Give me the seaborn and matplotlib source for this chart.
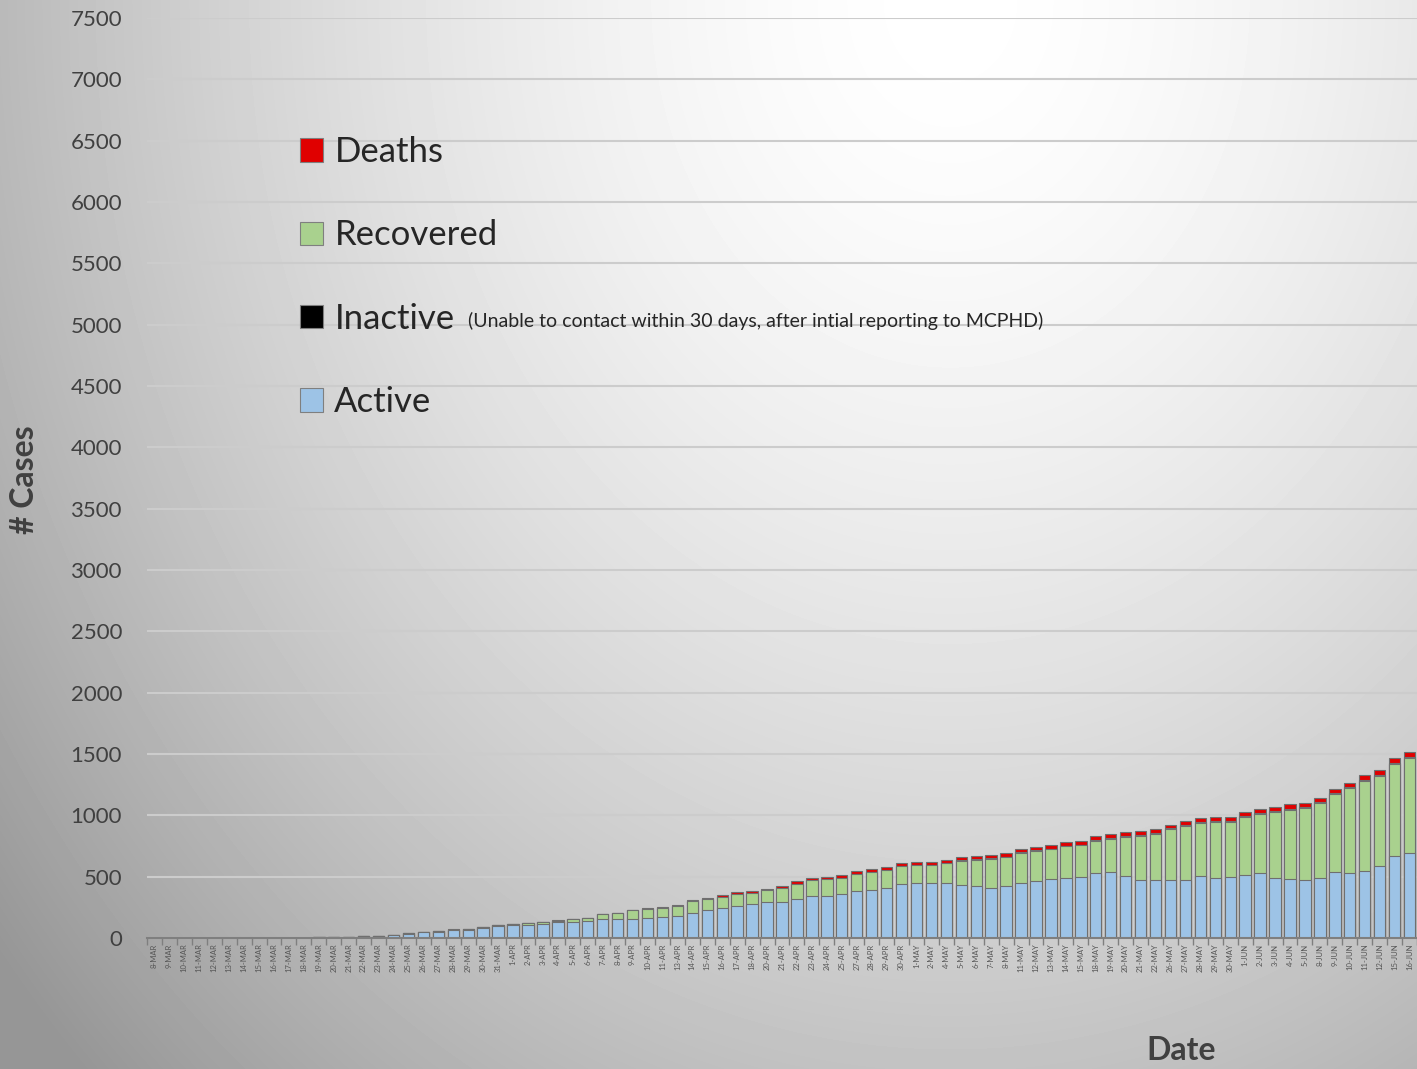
import numpy as np
import pandas as pd
import matplotlib
matplotlib.use("Agg")
import matplotlib.pyplot as plt
import seaborn as sns
from matplotlib.patches import Patch

dates = ["8-MAR", "9-MAR", "10-MAR", "11-MAR", "12-MAR", "13-MAR", "14-MAR", "15-MAR",
         "16-MAR", "17-MAR", "18-MAR", "19-MAR", "20-MAR", "21-MAR", "22-MAR", "23-MAR",
         "24-MAR", "25-MAR", "26-MAR", "27-MAR", "28-MAR", "29-MAR", "30-MAR", "31-MAR",
         "1-APR", "2-APR", "3-APR", "4-APR", "5-APR", "6-APR", "7-APR", "8-APR", "9-APR",
         "10-APR", "11-APR", "13-APR", "14-APR", "15-APR", "16-APR", "17-APR", "18-APR",
         "20-APR", "21-APR", "22-APR", "23-APR", "24-APR", "25-APR", "27-APR", "28-APR",
         "29-APR", "30-APR", "1-MAY", "2-MAY", "4-MAY", "5-MAY", "6-MAY", "7-MAY", "8-MAY",
         "11-MAY", "12-MAY", "13-MAY", "14-MAY", "15-MAY", "18-MAY", "19-MAY", "20-MAY",
         "21-MAY", "22-MAY", "26-MAY", "27-MAY", "28-MAY", "29-MAY", "30-MAY", "1-JUN",
         "2-JUN", "3-JUN", "4-JUN", "5-JUN", "8-JUN", "9-JUN", "10-JUN", "11-JUN", "12-JUN",
         "15-JUN", "16-JUN"]

active = [0, 0, 0, 0, 0, 0, 0, 0, 0, 0, 0, 6, 10, 12, 14, 19, 27, 36, 49, 51, 64, 65, 82, 96,
          104, 110, 118, 127, 128, 136, 152, 152, 152, 166, 172, 177, 207, 226, 245, 264, 275,
          292, 292, 319, 346, 346, 360, 386, 395, 411, 439, 450, 450, 447, 433, 422, 406, 420,
          450, 461, 477, 488, 496, 526, 537, 504, 474, 469, 469, 474, 507, 490, 496, 510,
          531, 488, 482, 474, 488, 534, 526, 550, 586, 665, 692]

recovered = [0, 0, 0, 0, 0, 0, 0, 0, 0, 0, 0, 0, 0, 0, 0, 0, 0, 1, 2, 3, 4, 5, 6, 7,
             9, 11, 13, 15, 23, 24, 42, 49, 73, 71, 71, 81, 91, 90, 92, 94, 95,
             96, 114, 125, 126, 134, 130, 138, 145, 140, 144, 143, 142, 164, 197, 217, 241, 239,
             244, 248, 246, 258, 260, 267, 273, 321, 358, 379, 417, 438, 429, 458, 452, 478,
             479, 539, 564, 582, 609, 638, 694, 729, 734, 755, 773]

inactive = [0] * 48 + [2, 2, 2, 3, 3, 3, 4, 4, 4, 4, 5, 5, 5, 5, 6, 6, 6, 6, 7, 7, 7, 7,
                       8, 8, 8, 8, 8, 9, 9, 9, 9, 9, 10, 10, 10, 10, 10]

deaths = [0, 0, 0, 0, 0, 0, 0, 0, 0, 0, 0, 0, 0, 0, 0, 1, 1, 1, 1, 1, 2, 2, 2, 3,
          3, 3, 3, 4, 4, 5, 5, 6, 7, 8, 8, 9, 10, 11, 12, 13, 14,
          15, 16, 17, 18, 19, 20, 21, 22, 22, 23, 23, 24, 24, 25, 25, 25, 26,
          26, 27, 27, 28, 28, 29, 29, 30, 30, 31, 31, 32, 32, 33, 33, 34,
          34, 35, 35, 36, 36, 37, 37, 38, 38, 39, 40]

yticks = list(range(0, 7501, 500))

legend_labels = ["Deaths", "Recovered", "Inactive", "Active"]
inactive_note = "(Unable to contact within 30 days, after intial reporting to MCPHD)"

c_active = "#9DC3E6"
c_recovered = "#A9D18E"
c_inactive = "#000000"
c_deaths = "#E00000"

sns.set_theme(style="white")
plt.rcParams['font.family'] = ['Lato', 'DejaVu Sans']

W, H = 1417, 1069
fig = plt.figure(figsize=(W / 100, H / 100), dpi=100)

# background gradient
bg = fig.add_axes([0, 0, 1, 1], zorder=-10)
yy, xx = np.mgrid[0:H, 0:W]
d = np.sqrt(((xx - 950) / 1100.0) ** 2 + (yy / 1350.0) ** 2)
img = np.clip(255 - 88 * d ** 1.6, 150, 255)
bg.imshow(img, cmap="gray", vmin=0, vmax=255, aspect="auto", interpolation="bilinear")
bg.axis("off")

ax = fig.add_axes([147 / W, (H - 938) / H, (W - 147) / W, (938 - 18) / H])
ax.set_facecolor("none")

a = np.array(active)
r = np.array(recovered)
i_ = np.array(inactive)
dd = np.array(deaths)
layers = [(a + r + i_ + dd, c_deaths), (a + r + i_, c_inactive), (a + r, c_recovered), (a, c_active)]
for vals, col in layers:
    df = pd.DataFrame({"date": dates, "val": vals})
    sns.barplot(data=df, x="date", y="val", color=col, saturation=1, width=0.76,
                edgecolor="#6f6f6f", linewidth=0.8, errorbar=None, ax=ax, zorder=3)

ax.set_xlim(-0.5, len(dates) - 0.5)
ax.set_ylim(0, 7500)
ax.set_yticks(yticks)
ax.set_yticklabels([str(v) for v in yticks], fontsize=16, color="#404040")
ax.tick_params(axis="y", length=0, pad=18)
ax.set_xticks(range(len(dates)))
ax.set_xticklabels(dates, rotation=90, fontsize=5.5, color="#555555")
ax.set_xticks(np.arange(-0.5, len(dates), 1), minor=True)
ax.tick_params(axis="x", which="major", length=0, pad=4)
ax.tick_params(axis="x", which="minor", length=5, width=1, color="#7f7f7f", direction="out", bottom=True)
ax.yaxis.grid(True, color="#cccccc", linewidth=1.5)
ax.set_axisbelow(True)
for s in ["left", "right", "top"]:
    ax.spines[s].set_visible(False)
ax.spines["bottom"].set_color("#7f7f7f")
ax.spines["bottom"].set_linewidth(1.5)
ax.spines["bottom"].set_zorder(4)

ax.set_xlabel("Date", fontsize=23, fontweight="bold", color="#404040")
ax.xaxis.set_label_coords((1181 - 147) / 1270, (938 - 1050) / 920)
ax.xaxis.label.set_va("center")
ax.set_ylabel("# Cases", fontsize=23, fontweight="bold", color="#404040")
ax.yaxis.set_label_coords((25 - 147) / 1270, (938 - 480) / 920)
ax.yaxis.label.set_va("center")

handles = [Patch(facecolor=c, edgecolor="#7f7f7f", linewidth=0.8)
           for c in [c_deaths, c_recovered, c_inactive, c_active]]
leg = ax.legend(handles, legend_labels, loc="upper left",
                bbox_to_anchor=(300 / W, 1 - 136 / H), bbox_transform=fig.transFigure,
                frameon=False, fontsize=25, borderpad=0, borderaxespad=0,
                handlelength=0.66, handleheight=0.66, handletextpad=0.33, labelspacing=1.48)
for t in leg.get_texts():
    t.set_color("#262626")

fig.text(468 / W, 1 - 321 / H, inactive_note, fontsize=14, color="#262626", va="center", ha="left")

fig.savefig("out.png", dpi=100)
